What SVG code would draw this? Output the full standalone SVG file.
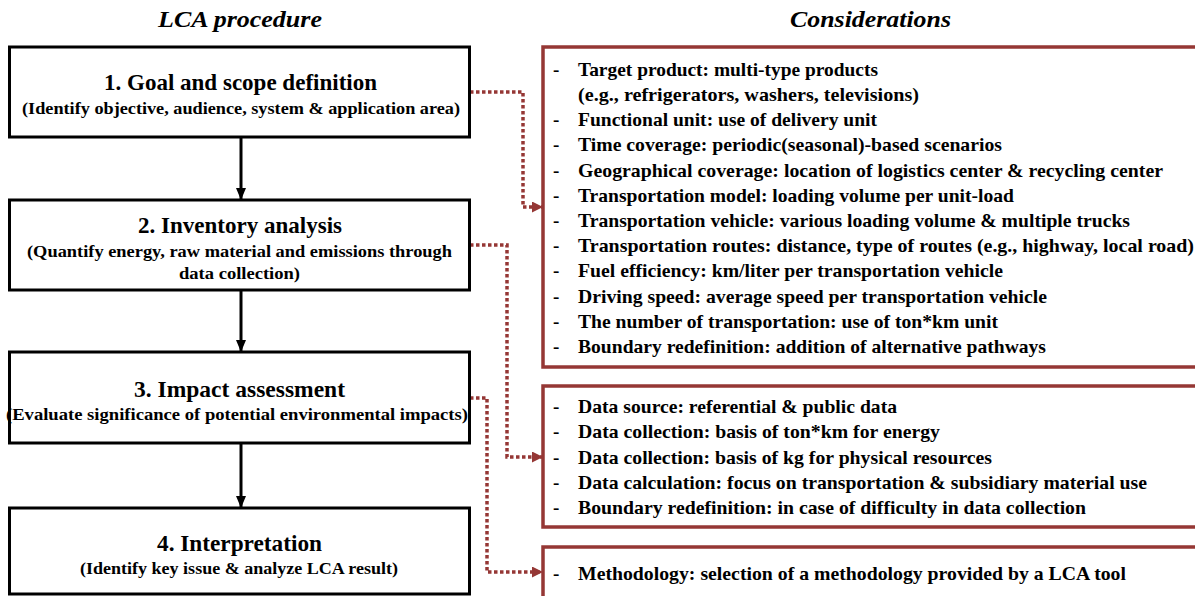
<svg xmlns="http://www.w3.org/2000/svg" width="1195" height="596" viewBox="0 0 1195 596" font-family="Liberation Serif, Times New Roman, Tinos, serif">
<style>
text{font-family:"Liberation Serif","Times New Roman",Tinos,serif}
.hdr{font-weight:bold;font-style:italic;font-size:23px;fill:#000}
.box{fill:#fff;stroke:#000;stroke-width:3}
.rbox{fill:#fff;stroke:#953735;stroke-width:3.5}
.t{font-weight:bold;font-size:24px;fill:#000}
.s{font-weight:bold;font-size:17px;fill:#000}
.r{font-weight:bold;font-size:19px;fill:#000}
.flow{fill:none;stroke:#000;stroke-width:3}
.dot{fill:none;stroke:#953735;stroke-width:3.5;stroke-dasharray:3.5 2.5}
</style>
<defs>
<marker id="ab" viewBox="0 0 12 10" refX="12" refY="5" markerWidth="12" markerHeight="10" markerUnits="userSpaceOnUse" orient="auto"><path d="M0,0 L12,5 L0,10 z" fill="#000"/></marker>
<marker id="ar" viewBox="0 0 11 11" refX="11" refY="5.5" markerWidth="11" markerHeight="11" markerUnits="userSpaceOnUse" orient="auto"><path d="M0,0 L11,5.5 L0,11 z" fill="#953735"/></marker>
</defs>
<g id="headers">
<text class="hdr" x="158" y="27" textLength="164" lengthAdjust="spacingAndGlyphs">LCA procedure</text>
<text class="hdr" x="790" y="27" textLength="161" lengthAdjust="spacingAndGlyphs">Considerations</text>
</g>
<g id="connectors">
<path class="flow" d="M241 137 V200" marker-end="url(#ab)"/>
<path class="flow" d="M241 290 V352" marker-end="url(#ab)"/>
<path class="flow" d="M241 443 V508" marker-end="url(#ab)"/>
<path class="dot" d="M470 92 H523 V207 H543" marker-end="url(#ar)"/>
<path class="dot" d="M470 245 H507 V457 H543" marker-end="url(#ar)"/>
<path class="dot" d="M470 398 H487 V572 H543" marker-end="url(#ar)"/>
</g>
<g id="step1">
<rect class="box" x="9.5" y="47" width="460" height="90"/>
<text class="t" x="104" y="90" textLength="273" lengthAdjust="spacingAndGlyphs">1. Goal and scope definition</text>
<text class="s" x="22" y="114" textLength="438" lengthAdjust="spacingAndGlyphs">(Identify objective, audience, system &amp; application area)</text>
</g>
<g id="step2">
<rect class="box" x="9.5" y="200" width="460" height="90"/>
<text class="t" x="138" y="233" textLength="204" lengthAdjust="spacingAndGlyphs">2. Inventory analysis</text>
<text class="s" x="27" y="257" textLength="425" lengthAdjust="spacingAndGlyphs">(Quantify energy, raw material and emissions through</text>
<text class="s" x="179" y="279" textLength="121" lengthAdjust="spacingAndGlyphs">data collection)</text>
</g>
<g id="step3">
<rect class="box" x="9.5" y="352" width="460" height="91"/>
<text class="t" x="134" y="397" textLength="211" lengthAdjust="spacingAndGlyphs">3. Impact assessment</text>
<text class="s" x="6" y="420" textLength="462" lengthAdjust="spacingAndGlyphs">(Evaluate significance of potential environmental impacts)</text>
</g>
<g id="step4">
<rect class="box" x="9.5" y="508" width="460" height="86"/>
<text class="t" x="157" y="551" textLength="165" lengthAdjust="spacingAndGlyphs">4. Interpretation</text>
<text class="s" x="80" y="574" textLength="318" lengthAdjust="spacingAndGlyphs">(Identify key issue &amp; analyze LCA result)</text>
</g>
<g id="considerations1">
<rect class="rbox" x="543" y="47" width="700" height="320"/>
<text class="r" x="553" y="76">-</text>
<text class="r" x="578" y="76" textLength="300" lengthAdjust="spacingAndGlyphs">Target product: multi-type products</text>
<text class="r" x="578" y="101" textLength="341" lengthAdjust="spacingAndGlyphs">(e.g., refrigerators, washers, televisions)</text>
<text class="r" x="553" y="126">-</text>
<text class="r" x="578" y="126" textLength="299" lengthAdjust="spacingAndGlyphs">Functional unit: use of delivery unit</text>
<text class="r" x="553" y="151">-</text>
<text class="r" x="578" y="151" textLength="424" lengthAdjust="spacingAndGlyphs">Time coverage: periodic(seasonal)-based scenarios</text>
<text class="r" x="553" y="177">-</text>
<text class="r" x="578" y="177" textLength="585" lengthAdjust="spacingAndGlyphs">Geographical coverage: location of logistics center &amp; recycling center</text>
<text class="r" x="553" y="202">-</text>
<text class="r" x="578" y="202" textLength="436" lengthAdjust="spacingAndGlyphs">Transportation model: loading volume per unit-load</text>
<text class="r" x="553" y="227">-</text>
<text class="r" x="578" y="227" textLength="552" lengthAdjust="spacingAndGlyphs">Transportation vehicle: various loading volume &amp; multiple trucks</text>
<text class="r" x="553" y="252">-</text>
<text class="r" x="578" y="252" textLength="616" lengthAdjust="spacingAndGlyphs">Transportation routes: distance, type of routes (e.g., highway, local road)</text>
<text class="r" x="553" y="277">-</text>
<text class="r" x="578" y="277" textLength="425" lengthAdjust="spacingAndGlyphs">Fuel efficiency: km/liter per transportation vehicle</text>
<text class="r" x="553" y="303">-</text>
<text class="r" x="578" y="303" textLength="469" lengthAdjust="spacingAndGlyphs">Driving speed: average speed per transportation vehicle</text>
<text class="r" x="553" y="328">-</text>
<text class="r" x="578" y="328" textLength="420" lengthAdjust="spacingAndGlyphs">The number of transportation: use of ton*km unit</text>
<text class="r" x="553" y="353">-</text>
<text class="r" x="578" y="353" textLength="468" lengthAdjust="spacingAndGlyphs">Boundary redefinition: addition of alternative pathways</text>
</g>
<g id="considerations2">
<rect class="rbox" x="543" y="386" width="700" height="141"/>
<text class="r" x="553" y="413">-</text>
<text class="r" x="578" y="413" textLength="319" lengthAdjust="spacingAndGlyphs">Data source: referential &amp; public data</text>
<text class="r" x="553" y="438">-</text>
<text class="r" x="578" y="438" textLength="362" lengthAdjust="spacingAndGlyphs">Data collection: basis of ton*km for energy</text>
<text class="r" x="553" y="464">-</text>
<text class="r" x="578" y="464" textLength="414" lengthAdjust="spacingAndGlyphs">Data collection: basis of kg for physical resources</text>
<text class="r" x="553" y="489">-</text>
<text class="r" x="578" y="489" textLength="569" lengthAdjust="spacingAndGlyphs">Data calculation: focus on transportation &amp; subsidiary material use</text>
<text class="r" x="553" y="514">-</text>
<text class="r" x="578" y="514" textLength="508" lengthAdjust="spacingAndGlyphs">Boundary redefinition: in case of difficulty in data collection</text>
</g>
<g id="considerations3">
<rect class="rbox" x="543" y="547" width="700" height="100"/>
<text class="r" x="553" y="580">-</text>
<text class="r" x="578" y="580" textLength="548" lengthAdjust="spacingAndGlyphs">Methodology: selection of a methodology provided by a LCA tool</text>
</g>
</svg>
